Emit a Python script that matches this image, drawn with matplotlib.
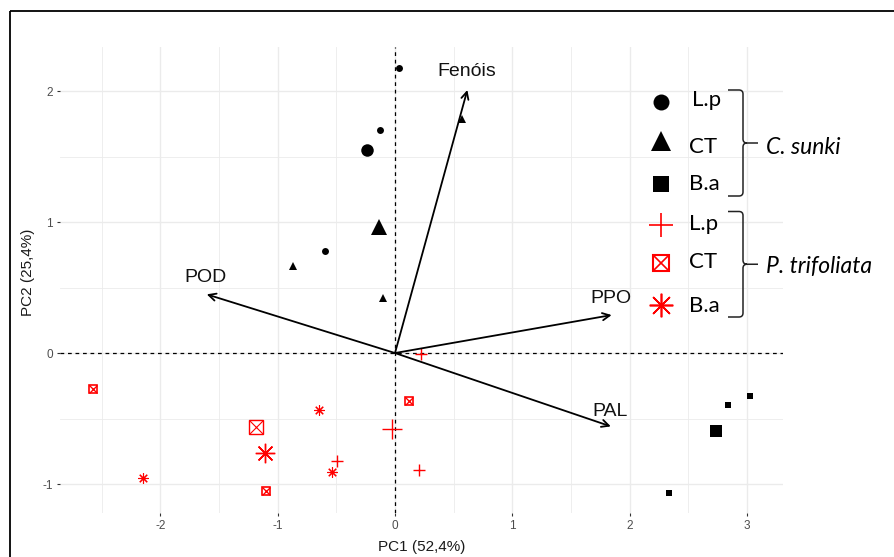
import matplotlib
matplotlib.use("Agg")
import matplotlib.pyplot as plt
from matplotlib.path import Path
from matplotlib.patches import PathPatch, Rectangle
import numpy as np

# ---------------- data ----------------
# C. sunki
cs_lp_x = [0.034, -0.128, -0.597]
cs_lp_y = [2.176, 1.700, 0.776]
cs_lp_cx, cs_lp_cy = [-0.236], [1.552]

cs_ct_x = [-0.872, -0.105, 0.568]
cs_ct_y = [0.666, 0.422, 1.790]
cs_ct_cx, cs_ct_cy = [-0.136], [0.964]

cs_ba_x = [3.030, 2.836, 2.336]
cs_ba_y = [-0.326, -0.394, -1.066]
cs_ba_cx, cs_ba_cy = [2.736], [-0.598]

# P. trifoliata
pt_lp_x = [0.219, -0.497, 0.207]
pt_lp_y = [-0.008, -0.827, -0.896]
pt_lp_cx, pt_lp_cy = [-0.028], [-0.578]

pt_ct_x = [-2.572, 0.122, -1.102]
pt_ct_y = [-0.275, -0.364, -1.053]
pt_ct_cx, pt_ct_cy = [-1.188], [-0.565]

pt_ba_x = [-0.645, -2.146, -0.540]
pt_ba_y = [-0.435, -0.957, -0.908]
pt_ba_cx, pt_ba_cy = [-1.105], [-0.766]

# loadings (arrows)
var_names = ["Fenóis", "POD", "PPO", "PAL"]
var_x = [0.617, -1.605, 1.847, 1.840]
var_y = [2.008, 0.448, 0.290, -0.560]
lab_x = [0.614, -1.616, 1.837, 1.833]
lab_y = [2.147, 0.580, 0.420, -0.448]

x_ticks = [-2, -1, 0, 1, 2, 3]
y_ticks = [-1, 0, 1, 2]
x_label = "PC1 (52,4%)"
y_label = "PC2 (25,4%)"

legend_labels = ["L.p", "CT", "B.a", "L.p", "CT", "B.a"]
group_names = ["C. sunki", "P. trifoliata"]

# ---------------- figure ----------------
W, H = 894, 557
fig = plt.figure(figsize=(W / 100, H / 100), dpi=100)
fig.patch.set_facecolor("white")

L, R, T, B = 60, 783, 47, 513
ax = fig.add_axes([L / W, 1 - B / H, (R - L) / W, (B - T) / H])
ax.set_xlim(-2.856, 3.308)
ax.set_ylim(-1.221, 2.336)

for s in ax.spines.values():
    s.set_visible(False)

grid_col = "#ebebeb"
ax.set_xticks(x_ticks)
ax.set_yticks(y_ticks)
ax.set_xticks([-2.5, -1.5, -0.5, 0.5, 1.5, 2.5], minor=True)
ax.set_yticks([-0.5, 0.5, 1.5], minor=True)
ax.grid(True, which="major", color=grid_col, lw=1.0, zorder=0)
ax.grid(True, which="minor", color=grid_col, lw=0.6, zorder=0)
ax.set_axisbelow(True)
ax.tick_params(which="major", length=2.5, width=0.8, color="#333333",
               labelcolor="#4d4d4d", labelsize=8.5, pad=2.5)
ax.tick_params(which="minor", length=0)
ax.set_xticklabels([str(t) for t in x_ticks], family="Liberation Sans")
ax.set_yticklabels([str(t) for t in y_ticks], family="Liberation Sans")

# reference dashed lines
ax.axhline(0, color="black", lw=0.9, ls=(0, (3, 3)), zorder=1)
ax.axvline(0, color="black", lw=0.9, ls=(0, (3, 3)), zorder=1)

red = "#ff0000"
# C. sunki
ax.plot(cs_lp_x, cs_lp_y, "o", color="black", ms=5, mew=0, zorder=3)
ax.plot(cs_lp_cx, cs_lp_cy, "o", color="black", ms=9, mew=0, zorder=3)
ax.plot(cs_ct_x, cs_ct_y, "^", color="black", ms=6, mew=0, zorder=3)
ax.plot(cs_ct_cx, cs_ct_cy, "^", color="black", ms=11.5, mew=0, zorder=3)
ax.plot(cs_ba_x, cs_ba_y, "s", color="black", ms=5, mew=0, zorder=3)
ax.plot(cs_ba_cx, cs_ba_cy, "s", color="black", ms=8.5, mew=0, zorder=3)

# P. trifoliata
def boxx(x, y, ms, lw):
    ax.plot(x, y, "s", mfc="none", mec=red, ms=ms, mew=lw, zorder=3)
    ax.plot(x, y, "x", color=red, ms=ms * 0.95, mew=lw * 0.8, zorder=3)

ax.plot(pt_lp_x, pt_lp_y, "+", color=red, ms=8, mew=1.0, zorder=3)
ax.plot(pt_lp_cx, pt_lp_cy, "+", color=red, ms=14, mew=1.0, zorder=3)
boxx(pt_ct_x, pt_ct_y, 5.5, 1.2)
boxx(pt_ct_cx, pt_ct_cy, 10, 1.0)
ax.plot(pt_ba_x, pt_ba_y, marker=(8, 2, 0), ls="none", color=red, ms=7.5, mew=0.8, zorder=3)
ax.plot(pt_ba_cx, pt_ba_cy, marker=(8, 2, 0), ls="none", color=red, ms=14, mew=1.0, zorder=3)

# arrows
for name, vx, vy, tx, ty in zip(var_names, var_x, var_y, lab_x, lab_y):
    ax.annotate("", xy=(vx, vy), xytext=(0, 0),
                arrowprops=dict(arrowstyle="->", color="black", lw=1.3,
                                mutation_scale=13, shrinkA=0, shrinkB=0),
                zorder=4)
    ax.text(tx, ty, name, ha="center", va="center", fontsize=14,
            family="Liberation Sans", color="#111111", zorder=5)

# axis titles
fig.text((L + R) / 2 / W, 1 - 547 / H, x_label, ha="center", va="center",
         fontsize=11, family="Liberation Sans", color="#1a1a1a")
fig.text(28 / W, 1 - 272 / H, y_label, ha="center", va="center", rotation=90,
         fontsize=11, family="Liberation Sans", color="#1a1a1a")

# ---------------- overlay (legend, brackets, border) ----------------
ov = fig.add_axes([0, 0, 1, 1], facecolor="none")
ov.set_xlim(0, W)
ov.set_ylim(H, 0)
ov.axis("off")

# border
ov.add_patch(Rectangle((10, 11), W + 20, H + 20, fill=False, ec="black", lw=1.3))

sym_x = 661
row_y = [101.5, 141, 183.5, 225, 262.5, 305]
ov.plot(sym_x, row_y[0], "o", color="black", ms=11.5, mew=0)
ov.plot(sym_x, row_y[1], "^", color="black", ms=15, mew=0)
ov.plot(sym_x, row_y[2], "s", color="black", ms=12, mew=0)
ov.plot(sym_x, row_y[3], "+", color=red, ms=17, mew=1.2)
ov.plot(sym_x, row_y[4], "s", mfc="none", mec=red, ms=11, mew=1.5)
ov.plot(sym_x, row_y[4], "x", color=red, ms=10, mew=1.2)
ov.plot(sym_x, row_y[5], marker=(8, 2, 0), ls="none", color=red, ms=17, mew=1.2)

base_y = [106, 153, 190, 230, 268, 312.5]
lab_left = [691.5, 689, 689, 689, 689, 689]
for lx, by, t in zip(lab_left, base_y, legend_labels):
    ov.text(lx, by, t, ha="left", va="baseline", fontsize=16, family="Lato",
            color="black")

def bracket(y0, y1, xl=728, xr=743, xt=758):
    ym = (y0 + y1) / 2
    r = 4
    verts = [(xl, y0), (xr - r, y0), (xr, y0), (xr, y0 + r),
             (xr, ym - r), (xr, ym), (xr + r, ym), (xt, ym),
             (xr + r, ym), (xr, ym), (xr, ym + r),
             (xr, y1 - r), (xr, y1), (xr - r, y1), (xl, y1)]
    codes = [Path.MOVETO, Path.LINETO, Path.CURVE3, Path.CURVE3,
             Path.LINETO, Path.CURVE3, Path.CURVE3, Path.LINETO,
             Path.MOVETO, Path.CURVE3, Path.CURVE3,
             Path.LINETO, Path.CURVE3, Path.CURVE3, Path.LINETO]
    ov.add_patch(PathPatch(Path(verts, codes), fill=False, ec="#222222", lw=1.1))
    return ym

m1 = bracket(90, 196)
m2 = bracket(211.5, 317)
ov.text(766.5, m1 + 4, group_names[0], ha="left", va="center", fontsize=16.5,
        family="Lato", style="italic", color="black")
ov.text(766.5, m2 + 2, group_names[1], ha="left", va="center", fontsize=16.5,
        family="Lato", style="italic", color="black")

fig.savefig("out.png", dpi=100, facecolor="white")
